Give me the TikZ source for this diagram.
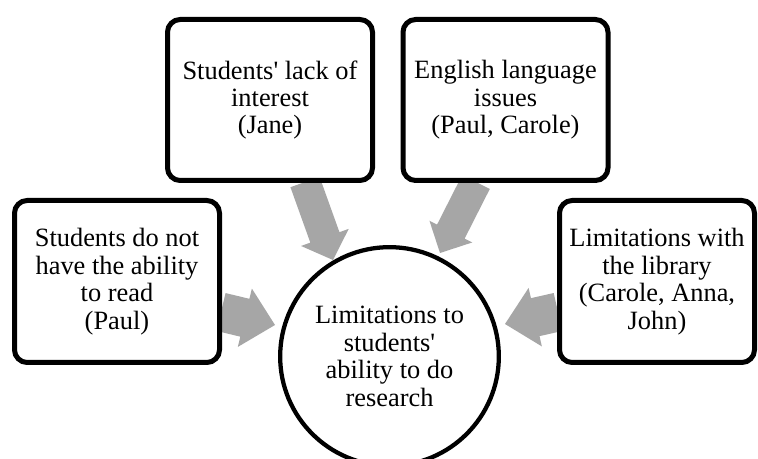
\documentclass[tikz,border=0pt]{standalone}
\usepackage{fontspec}
\setmainfont{Liberation Serif}[Ligatures=TeXOff]
\usetikzlibrary{calc,backgrounds}
\definecolor{arrowgray}{HTML}{A6A6A6}
\tikzset{
  txt/.style={font=\fontsize{19.8}{20.6}\selectfont, align=center},
  box/.style={txt, draw=black, line width=3.75pt, rounded corners=9.5pt, fill=white, inner sep=0pt},
  hub/.style={txt, circle, draw=black, line width=3.2pt, fill=white, inner sep=0pt, minimum size=164pt},
  blockfill/.style={fill=arrowgray, draw=none}
}
% #1 start, #2 tip, #3 shaft half width, #4 head half width, #5 head length
\newcommand{\blockarrow}[5]{%
  \coordinate (hb) at ($(#2)!#5!(#1)$);
  \fill[blockfill] ($(#1)!#3!90:(#2)$) -- ($(hb)!#3!90:(#2)$) -- ($(hb)!#4!90:(#2)$) -- (#2)
     -- ($(hb)!#4!-90:(#2)$) -- ($(hb)!#3!-90:(#2)$) -- ($(#1)!#3!-90:(#2)$) -- cycle;
}
\begin{document}
\begin{tikzpicture}[x=0.75pt,y=-0.75pt]
\useasboundingbox (0,0) rectangle (758,459);
\node[box, minimum width=153.75pt, minimum height=121.5pt] (left) at (117,281.5)
  {Students do not\\have the ability\\to read\\(Paul)};
\node[box, minimum width=153.75pt, minimum height=120.75pt] (topleft) at (270,100)
  {Students' lack of\\interest\\(Jane)};
\node[box, minimum width=153.75pt, minimum height=120.75pt] (topright) at (505.5,100)
  {English language\\issues\\(Paul, Carole)};
\node[box, minimum width=146.25pt, minimum height=121.5pt] (right) at (657,281.5)
  {Limitations with\\the library\\(Carole, Anna,\\John)};
\node[hub] (hub) at (389.5,356.5)
  {Limitations to\\students'\\ability to do\\research};
\coordinate (s1) at (221,312);   \coordinate (t1) at (275,325);
\coordinate (s2) at (305,182);   \coordinate (t2) at (333,260);
\coordinate (s3) at (476,182);   \coordinate (t3) at (440,253);
\coordinate (s4) at (558,312);   \coordinate (t4) at (505,324);
\begin{pgfonlayer}{background}
  \fill[white] (0,0) rectangle (758,459);
  \blockarrow{s1}{t1}{14.6pt}{22.5pt}{23.25pt}
  \blockarrow{s2}{t2}{11.6pt}{19pt}{18pt}
  \blockarrow{s3}{t3}{11.6pt}{18pt}{18pt}
  \blockarrow{s4}{t4}{14.6pt}{22.5pt}{23.25pt}
\end{pgfonlayer}
\end{tikzpicture}
\end{document}
